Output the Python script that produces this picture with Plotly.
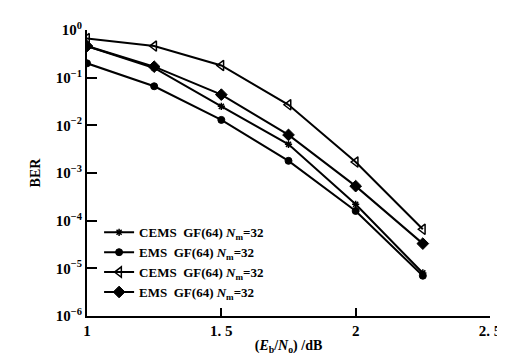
import plotly.graph_objects as go

snr = [1, 1.25, 1.5, 1.75, 2, 2.25]
cems_a = [0.46, 0.16, 0.025, 0.004, 2.2e-4, 8e-6]
ems_a = [0.2, 0.066, 0.013, 0.0018, 1.6e-4, 7e-6]
cems_b = [0.66, 0.46, 0.18, 0.027, 0.0017, 6.6e-5]
ems_b = [0.46, 0.17, 0.044, 0.0063, 5.3e-4, 3.3e-5]

names = [
    "CEMS  GF(64) <i>N</i><sub>m</sub>=32",
    "EMS  GF(64) <i>N</i><sub>m</sub>=32",
    "CEMS  GF(64) <i>N</i><sub>m</sub>=32",
    "EMS  GF(64) <i>N</i><sub>m</sub>=32",
]
series = [cems_a, ems_a, cems_b, ems_b]
markers = [
    dict(symbol="asterisk-open", size=6, color="black", line=dict(color="black", width=1.5)),
    dict(symbol="circle", size=7, color="black", line=dict(color="black", width=1)),
    dict(symbol="triangle-left-open", size=9, color="black", line=dict(color="black", width=1.5)),
    dict(symbol="diamond", size=9, color="black", line=dict(color="black", width=1)),
]

yticks = [1, 1e-1, 1e-2, 1e-3, 1e-4, 1e-5, 1e-6]
yticktext = ["10<sup>0</sup>", "10<sup>−1</sup>", "10<sup>−2</sup>", "10<sup>−3</sup>",
             "10<sup>−4</sup>", "10<sup>−5</sup>", "10<sup>−6</sup>"]
xticks = [1, 1.5, 2, 2.5]
xticktext = ["1", "1. 5", "2", "2. 5"]

fig = go.Figure()
for n, s, m in zip(names, series, markers):
    fig.add_trace(go.Scatter(x=snr, y=s, name=n, mode="lines+markers",
                             line=dict(color="black", width=2), marker=m))

def f(size):
    return dict(family="Liberation Serif", size=size, color="black", weight="bold")

fig.update_layout(
    width=505, height=355,
    margin=dict(l=79, r=13, t=15, b=40),
    paper_bgcolor="white", plot_bgcolor="white",
    font=f(14),
    legend=dict(x=0.03, y=0.345, xanchor="left", yanchor="top",
                bgcolor="rgba(0,0,0,0)", font=f(13),
                tracegroupgap=0, itemwidth=30),
    showlegend=True,
)
fig.update_xaxes(range=[1, 2.5], tickvals=xticks, ticktext=xticktext,
                 showgrid=False, zeroline=False, showline=True, linecolor="black", linewidth=2,
                 ticks="inside", ticklen=8, tickwidth=2, tickcolor="black",
                 tickfont=f(15),
                 title=dict(text="(<i>E</i><sub>b</sub>/<i>N</i><sub>o</sub>) /dB", standoff=2,
                            font=f(14)))
fig.update_yaxes(type="log", range=[-6, 0], tickvals=yticks, ticktext=yticktext,
                 showgrid=False, zeroline=False, showline=True, linecolor="black", linewidth=2,
                 ticks="inside", ticklen=10, tickwidth=2, tickcolor="black",
                 tickfont=f(15),
                 title=dict(text="BER", standoff=12, font=f(14)))

fig.write_html("out.html")
